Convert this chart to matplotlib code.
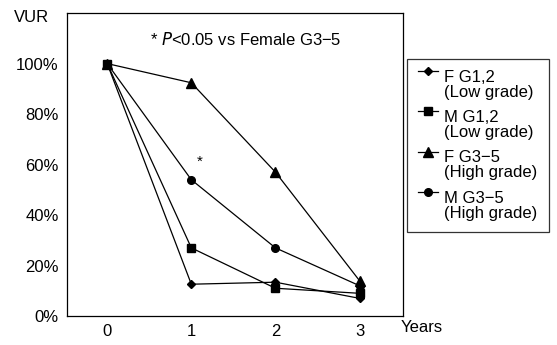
import matplotlib
matplotlib.use("Agg")
import matplotlib.pyplot as plt
from matplotlib.legend_handler import HandlerLine2D

plt.rcParams['font.family'] = ['Liberation Sans', 'DejaVu Sans']

years = [0, 1, 2, 3]
f_low = [100, 12.6, 13.4, 7]
m_low = [100, 27, 11, 9]
f_high = [100, 92.4, 57, 14]
m_high = [100, 54, 27, 12]
series_labels = ["F G1,2\n(Low grade)", "M G1,2\n(Low grade)",
                 "F G3\u22125\n(High grade)", "M G3\u22125\n(High grade)"]
yticks = [0, 20, 40, 60, 80, 100]
ytick_labels = ["0%", "20%", "40%", "60%", "80%", "100%"]

fig = plt.figure(figsize=(5.57, 3.45), dpi=100)
ax = fig.add_axes([0.120, 0.084, 0.604, 0.878])

lw = 0.9
h1, = ax.plot(years, f_low, color='black', lw=lw, marker='D', ms=4.2, label=series_labels[0])
h2, = ax.plot(years, m_low, color='black', lw=lw, marker='s', ms=5.5, label=series_labels[1])
h3, = ax.plot(years, f_high, color='black', lw=lw, marker='^', ms=6.5, label=series_labels[2])
h4, = ax.plot(years, m_high, color='black', lw=lw, marker='o', ms=5.5, label=series_labels[3])

ax.set_xlim(-0.48, 3.52)
ax.set_ylim(0, 120)
ax.set_xticks(years)
ax.set_xticklabels([str(y) for y in years], fontsize=12)
ax.set_yticks(yticks)
ax.set_yticklabels(ytick_labels, fontsize=12)
ax.tick_params(length=0, pad=6)
for s in ax.spines.values():
    s.set_linewidth(0.9)

ax.text(1.1, 61, "*", fontsize=11, ha='center', va='center')
fig.text(0.27, 0.885, "* $P$<0.05 vs Female G3\u22125", fontsize=12, ha='left', va='center')
fig.text(0.025, 0.95, "VUR", fontsize=12, ha='left', va='center')
fig.text(0.72, 0.05, "Years", fontsize=12, ha='left', va='center')


class UpHandler(HandlerLine2D):
    def create_artists(self, legend, orig_handle, xdescent, ydescent, width, height, fontsize, trans):
        return super().create_artists(legend, orig_handle, xdescent, ydescent - 2 * 10.0,
                                      width, height, fontsize, trans)


leg = ax.legend(handles=[h1, h2, h3, h4], loc='upper left',
                bbox_to_anchor=(407 / 557, 1 - 59 / 345), bbox_transform=fig.transFigure,
                borderaxespad=0, fontsize=12, frameon=True, fancybox=False,
                edgecolor='black', handlelength=1.2, handletextpad=0.4,
                labelspacing=0.62, borderpad=0.65,
                handler_map={matplotlib.lines.Line2D: UpHandler(numpoints=1)})
leg.get_frame().set_linewidth(0.9)
for t in leg.get_texts():
    t.set_linespacing(1.0)

fig.savefig("out.png", dpi=100)
